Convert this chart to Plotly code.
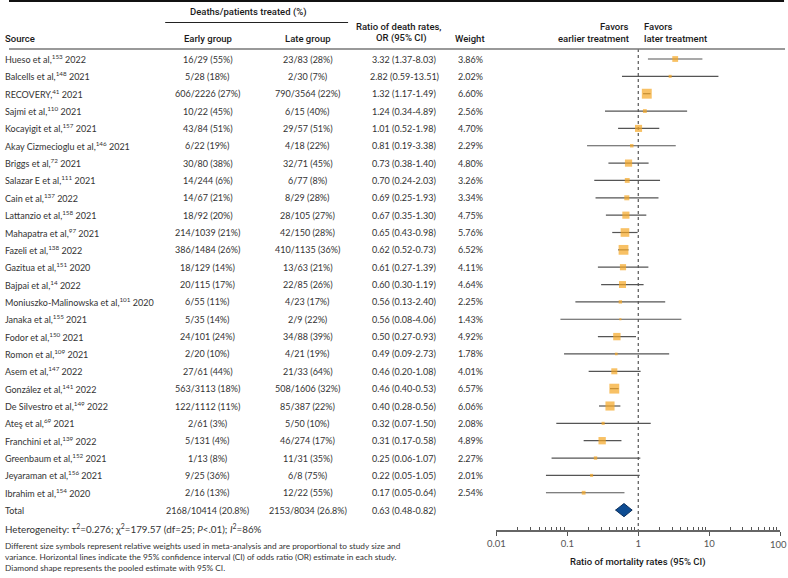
import plotly.graph_objects as go

# ---------------- data ----------------
sources = [
    "Hueso et al,<sup>153</sup> 2022", "Balcells et al,<sup>148</sup> 2021", "RECOVERY,<sup>41</sup> 2021",
    "Sajmi et al,<sup>110</sup> 2021", "Kocayigit et al,<sup>157</sup> 2021", "Akay Cizmecioglu et al,<sup>146</sup> 2021",
    "Briggs et al,<sup>72</sup> 2021", "Salazar E et al,<sup>111</sup> 2021", "Cain et al,<sup>137</sup> 2022",
    "Lattanzio et al,<sup>158</sup> 2021", "Mahapatra et al,<sup>97</sup> 2021", "Fazeli et al,<sup>138</sup> 2022",
    "Gazitua et al,<sup>151</sup> 2020", "Bajpai et al,<sup>14</sup> 2022", "Moniuszko-Malinowska et al,<sup>101</sup> 2020",
    "Janaka et al,<sup>155</sup> 2021", "Fodor et al,<sup>150</sup> 2021", "Romon et al,<sup>109</sup> 2021",
    "Asem et al,<sup>147</sup> 2022", "González et al,<sup>141</sup> 2022", "De Silvestro et al,<sup>149</sup> 2022",
    "Ateş et al,<sup>69</sup> 2021", "Franchini et al,<sup>139</sup> 2022", "Greenbaum et al,<sup>152</sup> 2021",
    "Jeyaraman et al,<sup>156</sup> 2021", "Ibrahim et al,<sup>154</sup> 2020",
]
early = ["16/29 (55%)", "5/28 (18%)", "606/2226 (27%)", "10/22 (45%)", "43/84 (51%)", "6/22 (19%)",
         "30/80 (38%)", "14/244 (6%)", "14/67 (21%)", "18/92 (20%)", "214/1039 (21%)", "386/1484 (26%)",
         "18/129 (14%)", "20/115 (17%)", "6/55 (11%)", "5/35 (14%)", "24/101 (24%)", "2/20 (10%)",
         "27/61 (44%)", "563/3113 (18%)", "122/1112 (11%)", "2/61 (3%)", "5/131 (4%)", "1/13 (8%)",
         "9/25 (36%)", "2/16 (13%)"]
late = ["23/83 (28%)", "2/30 (7%)", "790/3564 (22%)", "6/15 (40%)", "29/57 (51%)", "4/18 (22%)",
        "32/71 (45%)", "6/77 (8%)", "8/29 (28%)", "28/105 (27%)", "42/150 (28%)", "410/1135 (36%)",
        "13/63 (21%)", "22/85 (26%)", "4/23 (17%)", "2/9 (22%)", "34/88 (39%)", "4/21 (19%)",
        "21/33 (64%)", "508/1606 (32%)", "85/387 (22%)", "5/50 (10%)", "46/274 (17%)", "11/31 (35%)",
        "6/8 (75%)", "12/22 (55%)"]
or_est = [3.32, 2.82, 1.32, 1.24, 1.01, 0.81, 0.73, 0.70, 0.69, 0.67, 0.65, 0.62, 0.61, 0.60,
          0.56, 0.56, 0.50, 0.49, 0.46, 0.46, 0.40, 0.32, 0.31, 0.25, 0.22, 0.17]
or_lo = [1.37, 0.59, 1.17, 0.34, 0.52, 0.19, 0.38, 0.24, 0.25, 0.35, 0.43, 0.52, 0.27, 0.30,
         0.13, 0.08, 0.27, 0.09, 0.20, 0.40, 0.28, 0.07, 0.17, 0.06, 0.05, 0.05]
or_hi = [8.03, 13.51, 1.49, 4.89, 1.98, 3.38, 1.40, 2.03, 1.93, 1.30, 0.98, 0.73, 1.39, 1.19,
         2.40, 4.06, 0.93, 2.73, 1.08, 0.53, 0.56, 1.50, 0.58, 1.07, 1.05, 0.64]
weights = [3.86, 2.02, 6.60, 2.56, 4.70, 2.29, 4.80, 3.26, 3.34, 4.75, 5.76, 6.52, 4.11, 4.64,
           2.25, 1.43, 4.92, 1.78, 4.01, 6.57, 6.06, 2.08, 4.89, 2.27, 2.01, 2.54]
total_label = "Total"
total_early = "2168/10414 (20.8%)"
total_late = "2153/8034 (26.8%)"
total_or = [0.63, 0.48, 0.82]
tick_vals = [0.01, 0.1, 1, 10]
tick_text = ["0.01", "0.1", "1", "10"]
last_tick = 100
last_tick_text = "100"

# ---------------- layout helpers ----------------
W, H = 788, 578
ROW0, ROWSTEP = 59.0, 17.35
AX_PX = 530.0
LEFT = -5  # left text edge (annotation box padding compensated)
n = len(sources)
rows = list(range(n))
total_row = n


def row_of(px):
    return (px - ROW0) / ROWSTEP


def px_x(p):
    return p / W


def px_y(p):
    return 1 - p / H


BODY = dict(family="Lato, 'Open Sans', sans-serif", size=9, color="#333333")
HEAD = dict(family="Roboto, 'Open Sans', sans-serif", size=9.5, color="#1a1a1a", weight=500)
TICKF = dict(family="Lato, 'Open Sans', sans-serif", size=9.5, color="#555555")
ORANGE = "#F5A623"
LINEC = "#555555"

fig = go.Figure()

# CI lines
xs, ys = [], []
for i in rows:
    xs += [or_lo[i], or_hi[i], None]
    ys += [i, i, None]
xs += [total_or[1], total_or[2], None]
ys += [total_row, total_row, None]
fig.add_trace(go.Scatter(x=xs, y=ys, mode="lines", line=dict(color=LINEC, width=1.2),
                         hoverinfo="skip", showlegend=False))

# study squares
fig.add_trace(go.Scatter(x=or_est, y=rows, mode="markers",
                         marker=dict(symbol="square", color=ORANGE,
                                     size=[1.5 * w for w in weights], line=dict(width=0)),
                         showlegend=False))

# pooled diamond
dh = 0.38
fig.add_trace(go.Scatter(
    x=[total_or[1], total_or[0], total_or[2], total_or[0], total_or[1]],
    y=[total_row, total_row - dh, total_row, total_row + dh, total_row],
    mode="lines", fill="toself", fillcolor="#0E4C92",
    line=dict(color="#0A2F5E", width=1), showlegend=False, hoverinfo="skip"))

ann = []


def add(text, x, y, xanchor="center", font=BODY, yref="y", xref="paper"):
    ann.append(dict(text=text, x=x, y=y, xref=xref, yref=yref, xanchor=xanchor,
                    yanchor="middle", showarrow=False, font=font, borderpad=0))


for i in rows:
    add(sources[i], px_x(LEFT), i, "left")
    add(early[i], px_x(201), i)
    add(late[i], px_x(302), i)
    add(f"{or_est[i]:.2f} ({or_lo[i]:.2f}-{or_hi[i]:.2f})", px_x(400), i)
    add(f"{weights[i]:.2f}%", px_x(467), i)

add(total_label, px_x(LEFT), total_row, "left")
add(total_early, px_x(201), total_row)
add(total_late, px_x(302), total_row)
add(f"{total_or[0]:.2f} ({total_or[1]:.2f}-{total_or[2]:.2f})", px_x(400), total_row)

# header
add("Deaths/patients treated (%)", px_x(242), px_y(12), font=HEAD, yref="paper")
add("Source", px_x(LEFT), px_y(38), "left", font=HEAD, yref="paper")
add("Early group", px_x(201), px_y(38), font=HEAD, yref="paper")
add("Late group", px_x(302), px_y(38), font=HEAD, yref="paper")
add("Ratio of death rates,", px_x(395), px_y(26), font=HEAD, yref="paper")
add("OR (95% CI)", px_x(397), px_y(38), font=HEAD, yref="paper")
add("Weight", px_x(466), px_y(38), font=HEAD, yref="paper")
add("Favors", px_x(628), px_y(26), "right", font=HEAD, yref="paper")
add("earlier treatment", px_x(628), px_y(38), "right", font=HEAD, yref="paper")
add("Favors", px_x(641), px_y(26), "left", font=HEAD, yref="paper")
add("later treatment", px_x(641), px_y(38), "left", font=HEAD, yref="paper")

# last tick label (kept inside the page edge like the reference)
add(last_tick_text, 1.0, px_y(544), "right", font=TICKF, yref="paper")

# axis title
add("Ratio of mortality rates (95% CI)", px_x(636.5), px_y(562), font=HEAD, yref="paper")

# footnotes
HET = dict(family="Lato, 'Open Sans', sans-serif", size=9.8, color="#333333")
FOOT = dict(family="Lato, 'Open Sans', sans-serif", size=8.3, color="#333333")
add("Heterogeneity: τ<sup>2</sup>=0.276; χ<sup>2</sup>=179.57 (df=25; <i>P</i><.01); <i>I</i><sup>2</sup>=86%",
    px_x(LEFT), px_y(528), "left", font=HET, yref="paper")
add("Different size symbols represent relative weights used in meta-analysis and are proportional to study size and",
    px_x(LEFT), px_y(546), "left", font=FOOT, yref="paper")
add("variance. Horizontal lines indicate the 95% confidence interval (CI) of odds ratio (OR) estimate in each study.",
    px_x(LEFT), px_y(557), "left", font=FOOT, yref="paper")
add("Diamond shape represents the pooled estimate with 95% CI.",
    px_x(LEFT), px_y(568), "left", font=FOOT, yref="paper")

shapes = [
    dict(type="line", xref="paper", yref="paper", x0=0, x1=px_x(784), y0=px_y(1), y1=px_y(1),
         line=dict(color="#111111", width=2)),
    dict(type="line", xref="paper", yref="paper", x0=px_x(158), x1=px_x(343), y0=px_y(22.5), y1=px_y(22.5),
         line=dict(color="#222222", width=1)),
    dict(type="line", xref="paper", yref="paper", x0=0, x1=px_x(785), y0=px_y(49), y1=px_y(49),
         line=dict(color="#777777", width=1.5)),
    dict(type="line", xref="x", yref="y", x0=1, x1=1, y0=row_of(49), y1=row_of(AX_PX),
         line=dict(color="#333333", width=1, dash="dot"), layer="below"),
]

minor_vals = [m * 10 ** e for e in (-2, -1, 0, 1) for m in range(2, 10)]

fig.update_layout(
    width=W, height=H, margin=dict(l=0, r=0, t=0, b=0),
    paper_bgcolor="white", plot_bgcolor="white",
    showlegend=False, annotations=ann, shapes=shapes,
    xaxis=dict(type="log", range=[-2, 2], domain=[493 / W, 780 / W],
               tickvals=tick_vals + [last_tick], ticktext=tick_text + [""], ticks="outside", ticklen=4,
               tickcolor="#555555", tickwidth=1.2, showline=True, linecolor="#666666",
               linewidth=1.5, showgrid=False, zeroline=False,
               tickfont=TICKF,
               minor=dict(tickvals=minor_vals, ticks="inside", ticklen=3, tickcolor="#555555",
                          showgrid=False)),
    yaxis=dict(range=[row_of(AX_PX), row_of(0)], domain=[(H - AX_PX) / H, 1],
               visible=False, showgrid=False, zeroline=False),
)

fig.write_html("out.html", config={"displayModeBar": False},
               post_script="document.body.style.margin='0';document.body.style.overflow='hidden';")
